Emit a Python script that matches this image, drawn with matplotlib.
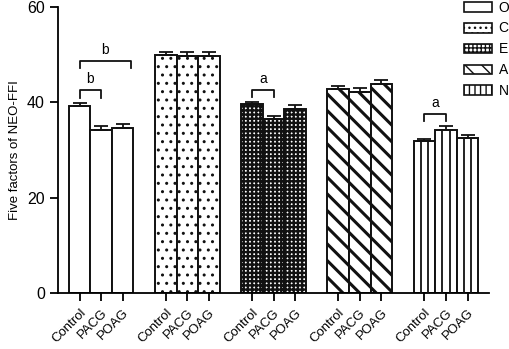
import numpy as np
import matplotlib
matplotlib.use("Agg")
import matplotlib.pyplot as plt
from matplotlib.patches import Patch

plt.rcParams['font.family'] = ['Liberation Sans', 'DejaVu Sans']
plt.rcParams['hatch.color'] = 'black'

factors = ["O", "C", "E", "A", "N"]
groups = ["Control", "PACG", "POAG"]
means = {
    "O": [39.2, 34.2, 34.6],
    "C": [49.9, 49.6, 49.7],
    "E": [39.6, 36.4, 38.6],
    "A": [42.8, 42.2, 43.9],
    "N": [31.8, 34.1, 32.4],
}
errs = {
    "O": [0.6, 0.8, 0.8],
    "C": [0.6, 0.8, 0.8],
    "E": [0.5, 0.8, 0.8],
    "A": [0.6, 0.8, 0.7],
    "N": [0.4, 1.0, 0.7],
}
hatches = {"O": "", "C": "..", "E": "++++", "A": "\\\\", "N": ""}
legend_hatches = {"O": "", "C": "...", "E": "++++", "A": "\\\\", "N": "|||"}
hatch_lw = {"O": 1.0, "C": 1.0, "E": 1.7, "A": 2.2, "N": 1.2}
hatch_col = {"O": "black", "C": "#666666", "E": "black", "A": "black", "N": "black"}
# significance brackets: (factor, i, j, height, letter)
brackets = [("O", 0, 1, 42.5, "b"), ("O", 0, 2.4, 48.7, "b"),
            ("E", 0, 1, 42.6, "a"), ("N", 0, 1, 37.6, "a")]

fig = plt.figure(figsize=(5.09, 3.49), dpi=100)
ax = fig.add_axes([0.114, 0.160, 0.847, 0.821])

w = 1.0
ec = '#111111'
ticks = []
handles = []
for g, f in enumerate(factors):
    x = 4 * g + np.arange(3)
    ticks.extend(x)
    with plt.rc_context({'hatch.linewidth': hatch_lw[f], 'hatch.color': hatch_col[f]}):
        bars = ax.bar(x, means[f], width=w, color='white', edgecolor=ec,
                      linewidth=1.4, hatch=hatches[f], zorder=2)
        for b in bars:
            if hasattr(b, 'set_hatch_linewidth'):
                b.set_hatch_linewidth(hatch_lw[f])
        p = Patch(facecolor='white', edgecolor=ec, linewidth=1.2, hatch=legend_hatches[f])
        if hasattr(p, 'set_hatch_linewidth'):
            p.set_hatch_linewidth(hatch_lw[f])
        handles.append(p)
    if f == "N":
        for xi, m in zip(x, means[f]):
            ax.vlines([xi - w / 6, xi + w / 6], 0, m, color=ec, lw=1.3, zorder=3)
    ax.errorbar(x, means[f], yerr=[np.zeros(3), errs[f]], fmt='none',
                ecolor=ec, elinewidth=1.3, capsize=5, capthick=1.3, zorder=3)

for f, i, j, h, letter in brackets:
    g = factors.index(f)
    x0, x1 = 4 * g + i, 4 * g + j
    ax.plot([x0, x0, x1, x1], [h - 1.6, h, h, h - 1.6], color=ec, lw=1.3,
            zorder=4, clip_on=False)
    ax.text((x0 + x1) / 2, h + 0.8, letter, ha='center', va='bottom', fontsize=10)

ax.set_xlim(-1, 19)
ax.set_ylim(0, 60)
ax.set_yticks([0, 20, 40, 60])
ax.set_xticks(ticks)
ax.set_xticklabels(groups * 5, rotation=45, ha='right', rotation_mode='anchor', fontsize=9.5)
ax.tick_params(axis='y', labelsize=11.5, length=6, width=1.3, direction='out')
ax.tick_params(axis='x', length=6, width=1.3, direction='out')
for s in ['top', 'right']:
    ax.spines[s].set_visible(False)
for s in ['left', 'bottom']:
    ax.spines[s].set_linewidth(1.3)
ax.set_ylabel("Five factors of NEO-FFI", fontsize=9.5, labelpad=4)

fig.legend(handles=handles, labels=factors, loc='upper left',
           bbox_to_anchor=(464 / 509, 1 - 0.5 / 349), frameon=False,
           fontsize=10, handlelength=2.0, handleheight=0.72,
           labelspacing=0.5, handletextpad=0.5, borderpad=0, borderaxespad=0)

fig.savefig("out.png", dpi=100)
